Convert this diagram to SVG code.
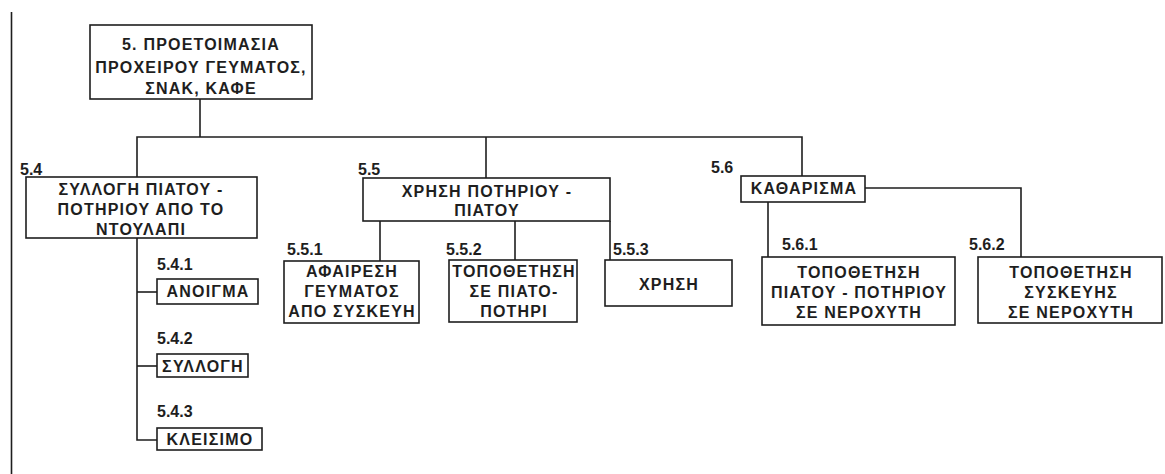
<svg xmlns="http://www.w3.org/2000/svg" width="1165" height="474" viewBox="0 0 1165 474">
<style>
.box{fill:#fff;stroke:#1e1e1e;stroke-width:1.6}
.ln{fill:none;stroke:#1e1e1e;stroke-width:1.6}
.t{font-family:"Liberation Sans",Arial,sans-serif;font-weight:bold;font-size:16px;letter-spacing:1.2px;fill:#1e1e1e;text-anchor:middle}
.lb{font-family:"Liberation Sans",Arial,sans-serif;font-weight:bold;font-size:16px;fill:#1e1e1e}
</style>
<rect width="1165" height="474" fill="#fff"/>
<line class="ln" x1="11.5" y1="12" x2="11.5" y2="474"/>
<g id="connectors">
<polyline class="ln" points="200,99 200,137"/>
<polyline class="ln" points="137,177 137,137 802,137 802,176"/>
<polyline class="ln" points="486,137 486,178"/>
<polyline class="ln" points="137,238 137,440 157,440"/>
<polyline class="ln" points="137,292 157,292"/>
<polyline class="ln" points="137,366 157,366"/>
<polyline class="ln" points="380,221 380,261"/>
<polyline class="ln" points="515,221 515,260"/>
<polyline class="ln" points="610,221 610,260"/>
<polyline class="ln" points="768,202 768,257"/>
<polyline class="ln" points="865,188 1021,188 1021,257"/>
</g>
<g id="n5">
<rect class="box" x="90" y="25" width="222" height="74"/>
<text class="t" x="201" y="50">5. ΠΡΟΕΤΟΙΜΑΣΙΑ</text>
<text class="t" x="201" y="73">ΠΡΟΧΕΙΡΟΥ ΓΕΥΜΑΤΟΣ,</text>
<text class="t" x="201" y="94">ΣΝΑΚ, ΚΑΦΕ</text>
</g>
<g id="n5_4">
<text class="lb" x="20" y="175">5.4</text>
<rect class="box" x="26" y="177" width="231" height="61"/>
<text class="t" x="141" y="195">ΣΥΛΛΟΓΗ ΠΙΑΤΟΥ -</text>
<text class="t" x="141" y="215">ΠΟΤΗΡΙΟΥ ΑΠΟ ΤΟ</text>
<text class="t" x="141" y="235">ΝΤΟΥΛΑΠΙ</text>
</g>
<g id="n5_4_1">
<text class="lb" x="157" y="270">5.4.1</text>
<rect class="box" x="157" y="279" width="101" height="25"/>
<text class="t" x="208" y="297">ΑΝΟΙΓΜΑ</text>
</g>
<g id="n5_4_2">
<text class="lb" x="157" y="344">5.4.2</text>
<rect class="box" x="157" y="354" width="91" height="23"/>
<text class="t" x="203" y="372">ΣΥΛΛΟΓΗ</text>
</g>
<g id="n5_4_3">
<text class="lb" x="157" y="417">5.4.3</text>
<rect class="box" x="157" y="428" width="105" height="22"/>
<text class="t" x="210" y="445">ΚΛΕΙΣΙΜΟ</text>
</g>
<g id="n5_5">
<text class="lb" x="358" y="175">5.5</text>
<rect class="box" x="363" y="178" width="247" height="43"/>
<text class="t" x="487" y="197">ΧΡΗΣΗ ΠΟΤΗΡΙΟΥ -</text>
<text class="t" x="487" y="216">ΠΙΑΤΟΥ</text>
</g>
<g id="n5_5_1">
<text class="lb" x="287" y="255">5.5.1</text>
<rect class="box" x="284" y="261" width="135" height="62"/>
<text class="t" x="352" y="277">ΑΦΑΙΡΕΣΗ</text>
<text class="t" x="352" y="297">ΓΕΥΜΑΤΟΣ</text>
<text class="t" x="352" y="317">ΑΠΟ ΣΥΣΚΕΥΗ</text>
</g>
<g id="n5_5_2">
<text class="lb" x="446" y="255">5.5.2</text>
<rect class="box" x="449" y="260" width="128" height="62"/>
<text class="t" x="514" y="277">ΤΟΠΟΘΕΤΗΣΗ</text>
<text class="t" x="514" y="297">ΣΕ ΠΙΑΤΟ-</text>
<text class="t" x="514" y="317">ΠΟΤΗΡΙ</text>
</g>
<g id="n5_5_3">
<text class="lb" x="613" y="255">5.5.3</text>
<rect class="box" x="605" y="260" width="127" height="46"/>
<text class="t" x="669" y="290">ΧΡΗΣΗ</text>
</g>
<g id="n5_6">
<text class="lb" x="711" y="173">5.6</text>
<rect class="box" x="741" y="176" width="124" height="26"/>
<text class="t" x="804" y="194">ΚΑΘΑΡΙΣΜΑ</text>
</g>
<g id="n5_6_1">
<text class="lb" x="782" y="250">5.6.1</text>
<rect class="box" x="762" y="257" width="193" height="68"/>
<text class="t" x="859" y="278">ΤΟΠΟΘΕΤΗΣΗ</text>
<text class="t" x="859" y="298">ΠΙΑΤΟΥ - ΠΟΤΗΡΙΟΥ</text>
<text class="t" x="859" y="318">ΣΕ ΝΕΡΟΧΥΤΗ</text>
</g>
<g id="n5_6_2">
<text class="lb" x="969" y="250">5.6.2</text>
<rect class="box" x="978" y="257" width="184" height="66"/>
<text class="t" x="1071" y="278">ΤΟΠΟΘΕΤΗΣΗ</text>
<text class="t" x="1071" y="298">ΣΥΣΚΕΥΗΣ</text>
<text class="t" x="1071" y="318">ΣΕ ΝΕΡΟΧΥΤΗ</text>
</g>
</svg>
